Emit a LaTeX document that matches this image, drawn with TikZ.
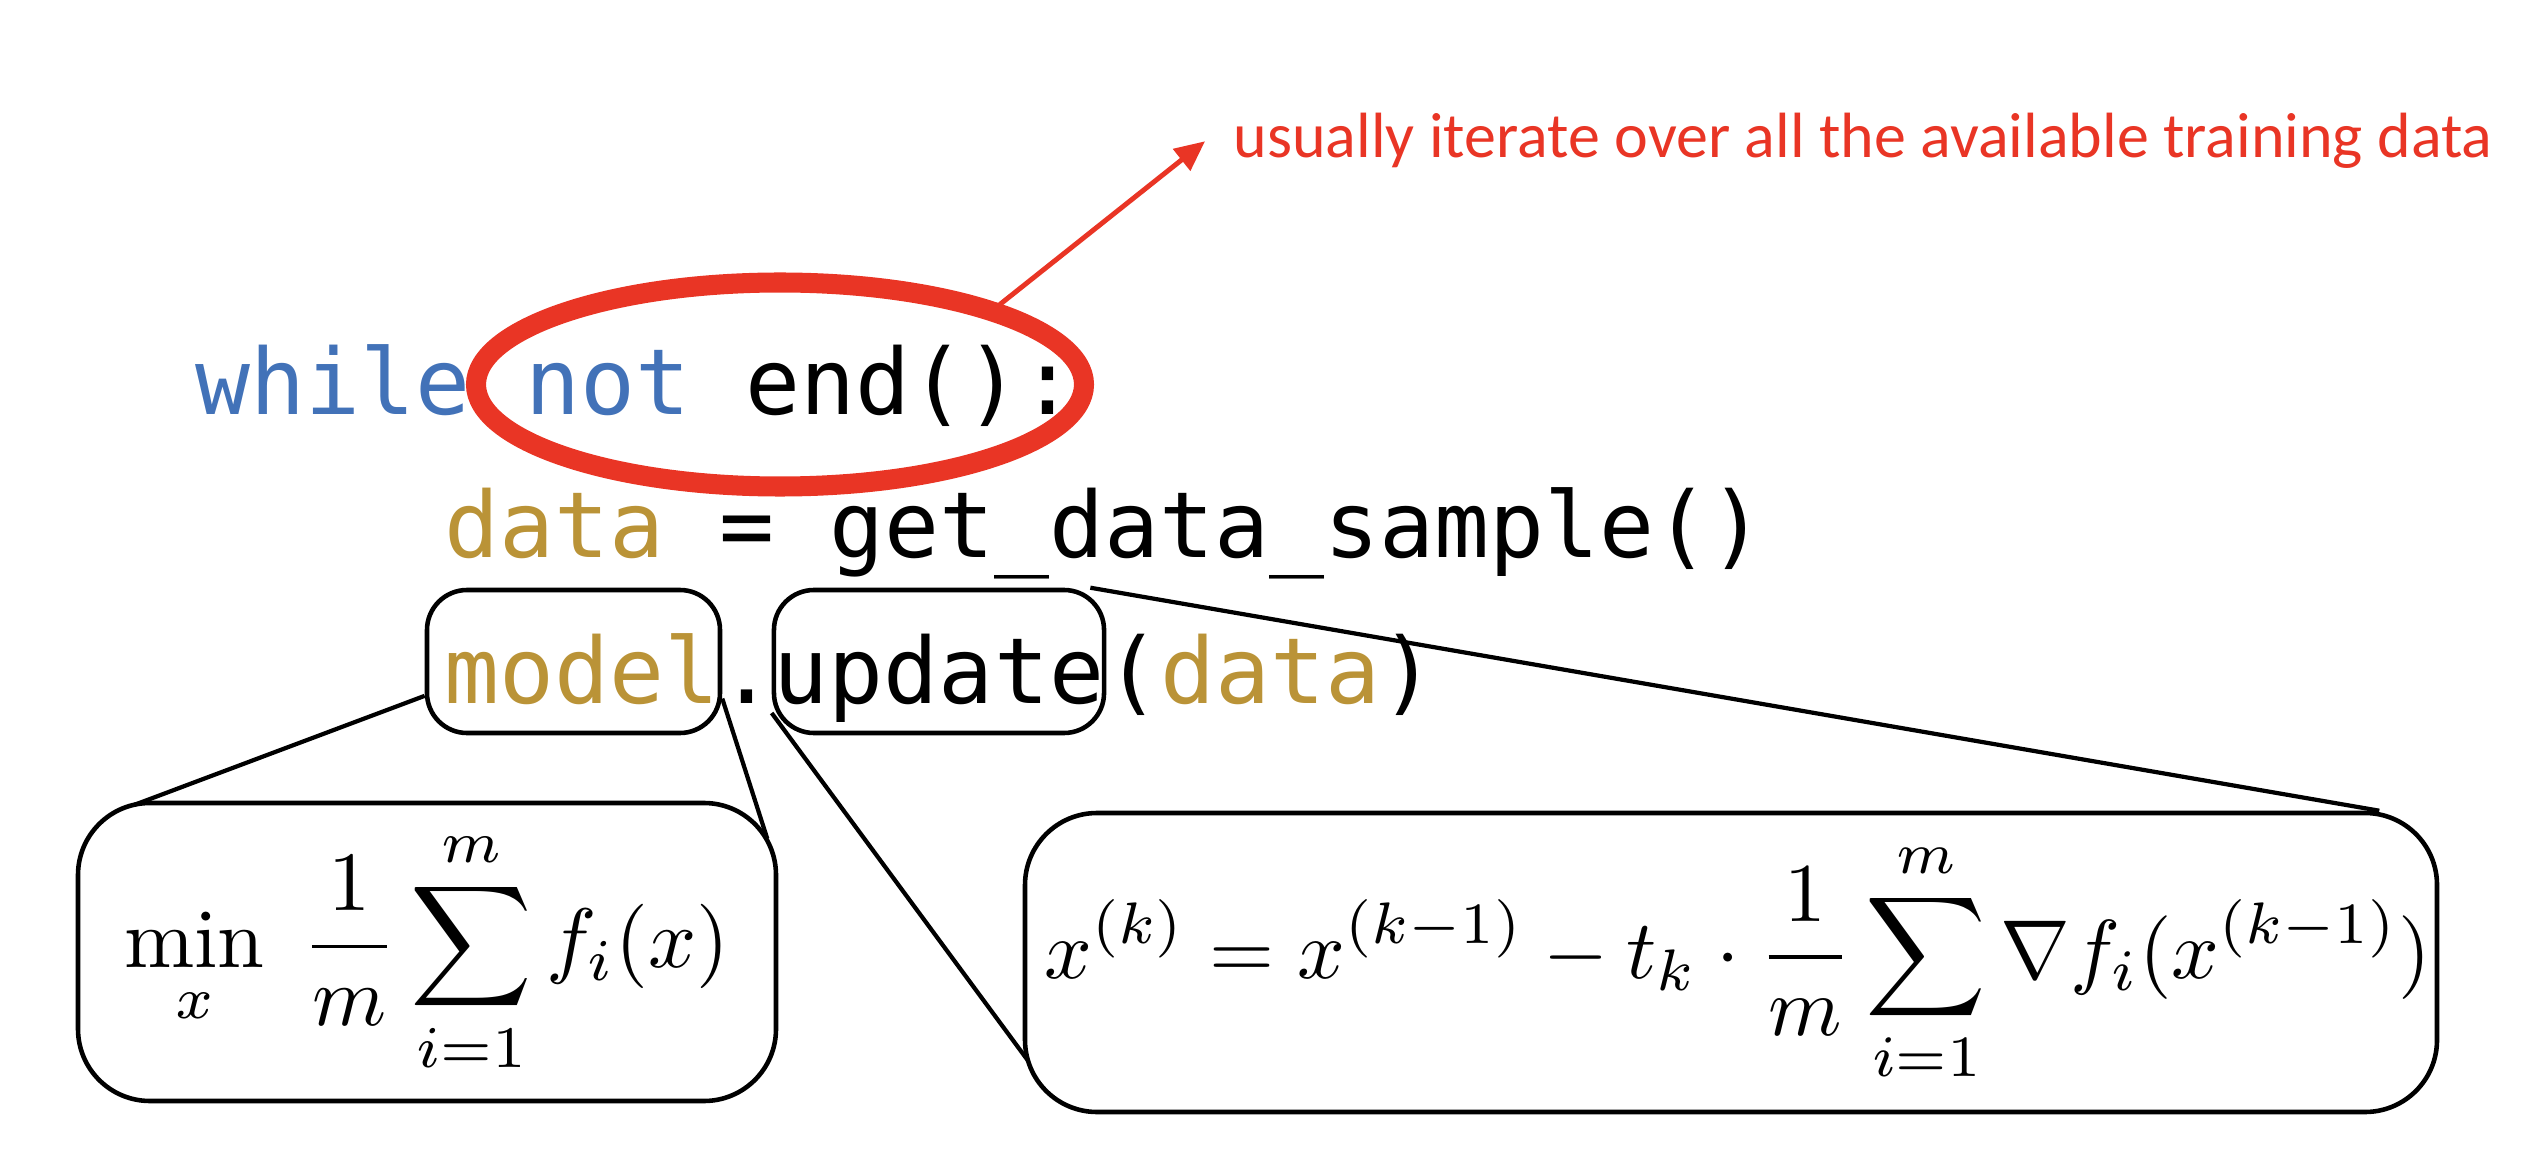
\documentclass[tikz,border=0pt]{standalone}
\usepackage{amsmath}
\usepackage{fontspec}
\newfontfamily\codefont{DejaVu Sans Mono}
\newfontfamily\notefont{Carlito}
\definecolor{kwblue}{RGB}{66,114,184}
\definecolor{vargold}{RGB}{186,147,55}
\definecolor{notered}{RGB}{233,53,37}
\usetikzlibrary{arrows.meta,positioning,shapes.geometric,calc}

\begin{document}
\begin{tikzpicture}[
  code/.style={font=\codefont\fontsize{26}{30}\selectfont,inner sep=0pt,anchor=base west},
  codebox/.style={draw,line width=1.3pt,rounded corners=0.4cm,inner sep=0pt,minimum height=1.43cm,text height=0.83cm,text depth=0pt,font=\codefont\fontsize{26}{30}\selectfont},
  mathbox/.style={draw,line width=1.3pt,rounded corners=0.72cm,inner sep=0pt},
  zoomline/.style={line width=1.2pt}]
  \useasboundingbox (0,0) rectangle (25.46,11.54);
  % training loop
  \node[code] (l1) at (1.95,7.39) {\textcolor{kwblue}{while not} end():};
  \node[code] (l2) at (4.44,5.96) {\textcolor{vargold}{data} = get\_data\_sample()};
  \node[codebox,minimum width=2.93cm,text=vargold] (model) at (5.735,4.925) {\hspace*{0.17cm}model};
  \node[code] (dot) at (7.19,4.51) {.};
  \node[codebox,minimum width=3.3cm] (update) at (9.39,4.925) {update};
  \node[code] (args) at (11.05,4.51) {(\textcolor{vargold}{data})};
  % stopping condition
  \node[draw=notered,ellipse,line width=5.7pt,minimum width=6.08cm,minimum height=2.04cm,inner sep=0pt] (ring) at (7.80,7.695) {};
  \node[font=\notefont\fontsize{18.2}{22}\selectfont,text=notered,anchor=base west,inner xsep=0.28cm,inner ysep=0pt] (note) at (12.05,9.96) {usually iterate over all the available training data};
  \draw[-{Triangle[length=0.3cm,width=0.27cm]},notered,line width=1.4pt] (ring.20) -- (note.west);
  % objective and update rule
  \node[mathbox,minimum width=6.98cm,minimum height=2.98cm] (minbox) at (4.27,2.02) {\scalebox{2.4}{$\displaystyle \min_x\;\frac{1}{m}\sum_{i=1}^{m} f_i(x)$}};
  \node[mathbox,minimum width=14.12cm,minimum height=2.99cm] (gdbox) at (17.31,1.915) {\hspace*{0.14cm}\raisebox{-0.1cm}{\scalebox{2.38}{$\displaystyle x^{(k)} = x^{(k-1)} - t_k\cdot\frac{1}{m}\sum_{i=1}^{m}\nabla f_i(x^{(k-1)})$}}};
  \draw[zoomline] (model.193) -- ([xshift=0.59cm,yshift=-0.04cm]minbox.north west);
  \draw[zoomline] (model.346) -- ([xshift=-0.11cm,yshift=-0.38cm]minbox.north east);
  \draw[zoomline] ([xshift=-0.16cm]update.north east) -- ([xshift=-0.6cm]gdbox.north east);
  \draw[zoomline] ([yshift=-0.515cm]update.west) -- ([xshift=0.05cm,yshift=0.54cm]gdbox.south west);
\end{tikzpicture}
\end{document}
